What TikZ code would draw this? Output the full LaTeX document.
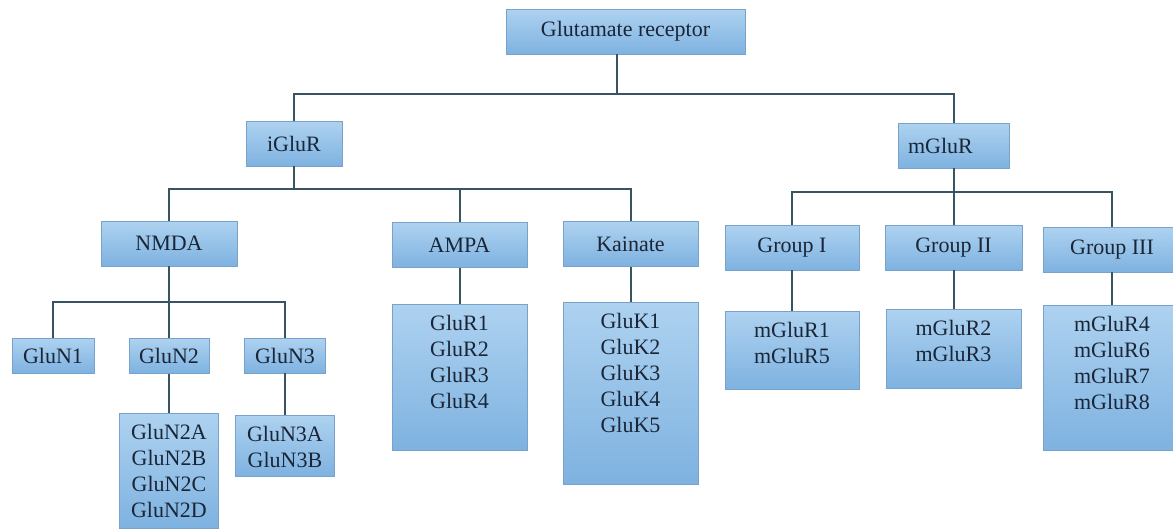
\documentclass[tikz,border=0pt]{standalone}
\usepackage{fontspec}
\setmainfont{Liberation Serif}
\usetikzlibrary{positioning}
\definecolor{boxtop}{RGB}{174,210,240}
\definecolor{boxbottom}{RGB}{126,178,224}
\definecolor{boxline}{RGB}{120,162,202}
\definecolor{wire}{RGB}{56,84,98}
\definecolor{ink}{RGB}{26,38,56}
\tikzstyle{receptor} = [rectangle,
                       draw=boxline,
                       thin,
                       top color=boxtop,
                       bottom color=boxbottom,
                       text=ink,
                       inner sep=0pt,
                       minimum height=22.5pt,
                       font=\fontsize{11}{13}\selectfont]
\tikzstyle{subunits} = [receptor,
                       anchor=north,
                       inner xsep=0pt,
                       inner ysep=5.5pt]
\tikzstyle{hierarchy} = [x=0.5pt,
                        y=-0.5pt,
                        connector/.style={draw=wire, line width=1pt}]
\newcommand{\members}[3]{\parbox[c][#2][t]{#1}{\centering #3}}

\begin{document}
\begin{tikzpicture}[hierarchy]
    \useasboundingbox (0,0) rectangle (1173,531);
    \fill[white] (0,0) rectangle (1173,531);
    \node (0) at (625.5,31.5) [receptor, minimum width=119.5pt] {Glutamate receptor};
    \node (1) at (294,143.5) [receptor, minimum width=48pt] {iGluR};
    \node (2) at (953.5,145.5) [receptor, text width=45.5pt, inner xsep=5pt, align=left] {mGluR};
    \node (3) at (169,243.5) [receptor, minimum width=68pt] {NMDA};
    \node (4) at (459.5,245) [receptor, minimum width=67.5pt] {AMPA};
    \node (5) at (630.5,244) [receptor, minimum width=67.5pt] {Kainate};
    \node (6) at (792,247.5) [receptor, minimum width=67pt] {Group I};
    \node (7) at (953.5,247.5) [receptor, minimum width=68.5pt] {Group II};
    \node (8) at (1112,249.5) [receptor, minimum width=69pt] {Group III};
    \node (9) at (53,355.5) [receptor, minimum width=41pt, minimum height=17.5pt] {GluN1};
    \node (10) at (169,356) [receptor, minimum width=40pt, minimum height=17.5pt] {GluN2};
    \node (11) at (285,355.5) [receptor, minimum width=40.5pt, minimum height=17.5pt] {GluN3};
    \node (12) at (169,413) [subunits] {\members{49.5pt}{46.5pt}{GluN2A\\GluN2B\\GluN2C\\GluN2D}};
    \node (13) at (285,415) [subunits] {\members{49.5pt}{19.5pt}{GluN3A\\GluN3B}};
    \node (14) at (459.5,304) [subunits] {\members{67.5pt}{62pt}{GluR1\\GluR2\\GluR3\\GluR4}};
    \node (15) at (630.5,302) [subunits] {\members{67.5pt}{80pt}{GluK1\\GluK2\\GluK3\\GluK4\\GluK5}};
    \node (16) at (792,311) [subunits] {\members{67pt}{28pt}{mGluR1\\mGluR5}};
    \node (17) at (953.5,309) [subunits] {\members{67.5pt}{28.5pt}{mGluR2\\mGluR3}};
    \node (18) at (1112,305) [subunits] {\members{69pt}{61.5pt}{mGluR4\\mGluR6\\mGluR7\\mGluR8}};
    \coordinate (top) at (617,94);
    \coordinate (ibus) at (294,189);
    \coordinate (mbus) at (953.5,192);
    \coordinate (nbus) at (169,302);

    \draw[connector] (0.south -| top) -- (top);
    \draw[connector] (1.north) |- (top) -| (2.north);
    \draw[connector] (1.south) -- (ibus);
    \draw[connector] (3.north) |- (ibus) -| (5.north);
    \draw[connector] (4.north) -- (4.north |- ibus);
    \draw[connector] (2.south) -- (mbus);
    \draw[connector] (6.north) |- (mbus) -| (8.north);
    \draw[connector] (7.north) -- (mbus);
    \draw[connector] (3.south) -- (10.north);
    \draw[connector] (9.north) |- (nbus) -| (11.north);
    \draw[connector] (10.south) -- (12.north);
    \draw[connector] (11.south) -- (13.north);
    \draw[connector] (4.south) -- (14.north);
    \draw[connector] (5.south) -- (15.north);
    \draw[connector] (6.south) -- (16.north);
    \draw[connector] (7.south) -- (17.north);
    \draw[connector] (8.south) -- (18.north);
\end{tikzpicture}
\end{document}
